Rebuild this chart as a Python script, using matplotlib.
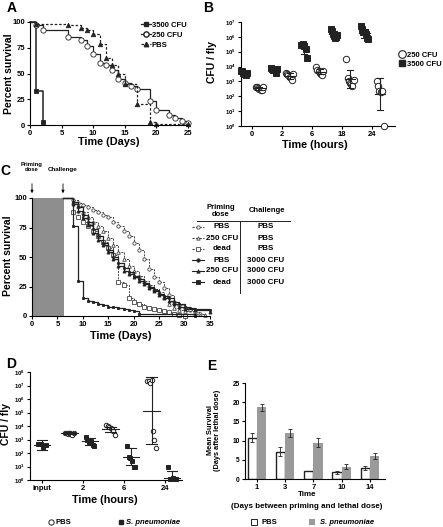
import numpy as np
import matplotlib
matplotlib.use("Agg")
import matplotlib.pyplot as plt
from matplotlib.lines import Line2D
from matplotlib.patches import Rectangle, FancyArrowPatch

# ---------------- data ----------------
# A: survival after single dose (days, percent)
A_t_3500 = [0, 1, 2]
A_s_3500 = [100, 33, 3]
A_t_250 = [0, 1, 2, 6, 8, 9, 10, 11, 12, 13, 14, 15, 16, 17, 19, 20, 22, 23, 24, 25]
A_s_250 = [100, 97, 92, 85, 83, 77, 69, 60, 58, 53, 45, 41, 38, 35, 23, 15, 10, 7, 4, 2]
A_t_pbs = [0, 1, 6, 8, 9, 10, 11, 12, 13, 14, 15, 17, 19, 20, 25]
A_s_pbs = [100, 98, 97, 94, 92, 88, 79, 65, 58, 50, 40, 20, 3, 1, 1]

# B: log10 CFU per fly
B_times = ["0", "2", "6", "18", "24"]
B_3500 = [
    [3.7, 3.7, 3.6, 3.5, 3.4, 3.6],
    [3.9, 3.85, 3.8, 3.75, 3.6, 3.85],
    [5.45, 5.5, 5.4, 5.2, 4.55],
    [6.5, 6.4, 6.2, 6.05, 5.95, 6.0, 6.1],
    [6.7, 6.5, 6.3, 6.3, 6.2, 5.9, 5.85],
]
B_250 = [
    [2.65, 2.6, 2.55, 2.5, 2.45, 2.4, 2.6],
    [3.6, 3.5, 3.4, 3.3, 3.2, 3.1, 3.5],
    [3.95, 3.8, 3.7, 3.6, 3.5, 3.4, 3.7],
    [4.5, 3.2, 3.0, 2.9, 2.8, 2.7, 3.1],
    [3.05, 2.7, 2.35, 2.3, 2.35, 0.0],
]

# C: priming / challenge survival (days, percent)
C_t_pbs_pbs = [6, 8, 9, 10, 11, 12, 13, 14, 15, 16, 17, 18, 19, 20, 21, 22, 23, 24, 25, 26, 27, 28, 29, 30, 31, 32, 33]
C_s_pbs_pbs = [100, 98, 96, 94, 92, 90, 88, 86, 84, 80, 76, 72, 68, 62, 56, 48, 40, 33, 29, 24, 18, 12, 9, 7, 5, 3, 2]
C_t_250_pbs = [6, 8, 9, 10, 11, 12, 13, 14, 15, 16, 17, 18, 19, 20, 21, 22, 23, 24, 25, 26, 27, 28, 29, 30, 32, 34]
C_s_250_pbs = [100, 97, 93, 88, 84, 80, 76, 72, 66, 60, 54, 48, 42, 38, 34, 30, 26, 23, 20, 16, 10, 7, 5, 4, 2, 1]
C_t_dead_pbs = [6, 8, 9, 10, 11, 12, 13, 14, 15, 16, 17, 18, 19, 20, 21, 22, 23, 24, 25, 26, 27, 28, 29, 30]
C_s_dead_pbs = [100, 88, 84, 80, 76, 72, 68, 63, 58, 52, 29, 26, 15, 12, 10, 8, 7, 6, 5, 4, 3, 2, 1, 0]
C_t_pbs_3000 = [6, 8, 9, 10, 11, 12, 13, 14, 15, 16, 17, 18, 19, 20, 21, 22, 23, 24, 25, 26, 27, 28, 29, 30, 31, 32, 35]
C_s_pbs_3000 = [100, 97, 92, 86, 80, 74, 68, 62, 56, 50, 45, 41, 37, 34, 31, 28, 25, 22, 19, 17, 15, 12, 10, 8, 7, 6, 5]
C_t_250_3000 = [6, 8, 9, 10, 11, 12, 13, 14, 15, 16, 17, 18, 19, 20, 21, 22, 23, 24, 25, 26, 27, 28, 29, 30, 32, 35]
C_s_250_3000 = [100, 95, 89, 83, 77, 70, 64, 60, 54, 48, 42, 38, 36, 33, 30, 27, 24, 21, 18, 15, 13, 10, 8, 6, 5, 3]
C_t_dead_3000 = [6, 8, 9, 10, 11, 12, 13, 14, 15, 16, 17, 18, 19, 20, 21, 32]
C_s_dead_3000 = [100, 76, 30, 15, 13, 12, 10, 9, 8, 8, 7, 6, 5, 4, 2, 0]
C_priming = ["PBS", "250 CFU", "dead", "PBS", "250 CFU", "dead"]
C_challenge = ["PBS", "PBS", "PBS", "3000 CFU", "3000 CFU", "3000 CFU"]

# D: log10 CFU per fly after priming
D_times = ["input", "2", "6", "24"]
D_input = [2.65, 2.7, 2.45, 2.6]
D_pbs = [
    [3.5, 3.45, 3.4, 3.45, 3.5, 3.4, 3.35, 3.5],
    [4.05, 4.0, 3.95, 3.85, 3.75, 3.6, 3.35],
    [7.35, 7.3, 7.2, 7.4, 3.6, 2.95, 2.4],
]
D_sp = [
    [3.2, 3.0, 2.85, 2.8, 2.9, 2.6, 2.55],
    [2.5, 1.7, 1.6, 1.4, 1.0, 1.0],
    [1.0, 0.1, 0.05, 0.15, 0.1, 0.1],
]
# mean, lower, upper (log10)
D_input_bar = [2.6, 2.25, 2.95]
D_pbs_bar = [[3.5, 3.4, 3.58], [3.75, 3.55, 3.95], [5.13, 2.67, 7.65]]
D_sp_bar = [[2.9, 2.6, 3.1], [1.68, 1.1, 2.35], [0.15, -0.2, 0.7]]

# E: mean survival after lethal dose
E_days = ["1", "3", "7", "10", "14"]
E_pbs = [10.8, 7.1, 2.0, 1.7, 2.9]
E_pbs_err = [1.2, 1.2, 0.0, 0.3, 0.5]
E_sp = [18.7, 12.0, 9.5, 3.2, 6.0]
E_sp_err = [0.9, 1.1, 1.2, 0.6, 0.7]

# ---------------- layout helpers ----------------
W, H = 443, 527


def fx(x):
    return x / W


def fy(y):
    return 1 - y / H


def rect(x0, y0, x1, y1):
    return [fx(x0), fy(y1), (x1 - x0) / W, (y1 - y0) / H]


plt.rcParams.update({
    "font.family": ["Liberation Sans", "DejaVu Sans"],
    "font.weight": "bold",
    "axes.labelweight": "bold",
    "axes.linewidth": 0.8,
    "xtick.major.width": 0.8,
    "ytick.major.width": 0.8,
    "xtick.major.size": 2.5,
    "ytick.major.size": 2.5,
    "xtick.major.pad": 1.2,
    "ytick.major.pad": 1.2,
    "mathtext.fontset": "custom",
    "mathtext.rm": "Liberation Sans:bold",
    "mathtext.bf": "Liberation Sans:bold",
})

DARK = "#222222"
fig = plt.figure(figsize=(W / 100, H / 100), dpi=100)


def prism(ax):
    for s in ("top", "right"):
        ax.spines[s].set_visible(False)
    ax.tick_params(labelsize=5.5)


def km(ax, t, s, ls, marker, mfc, ms, lw=0.9, color=DARK):
    ax.step(t, s, where="post", color=color, ls=ls, lw=lw, clip_on=False)
    ax.plot(t[1:], s[1:], ls="none", marker=marker, mfc=mfc, mec=color,
            ms=ms, mew=0.6, clip_on=False)


def label(x, y, s, size, rot=0, **kw):
    fig.text(fx(x), fy(y), s, fontsize=size, fontweight="bold", rotation=rot,
             ha="center", va="center", **kw)


def log_ticks(ax, top):
    ax.set_yticks([10.0 ** k for k in range(top + 1)])
    ax.set_yticklabels([rf"$\mathregular{{10^{{{k}}}}}$" for k in range(top + 1)],
                       fontsize=4.3)
    ax.minorticks_off()


def cluster(ax, center, vals, marker, mfc, ms, w=0.11):
    x = center + np.linspace(-w, w, len(vals))
    ax.plot(x, 10.0 ** np.array(vals), ls="none", marker=marker, mfc=mfc,
            mec=DARK, ms=ms, mew=0.7, clip_on=False, zorder=3)


def bar_sum(ax, center, mean, lo, hi, wm=0.2, wc=0.12):
    ax.plot([center, center], [10.0 ** lo, 10.0 ** hi], color=DARK, lw=0.8, zorder=4)
    ax.plot([center - wm, center + wm], [10.0 ** mean] * 2, color=DARK, lw=0.8, zorder=4)
    for v in (lo, hi):
        ax.plot([center - wc, center + wc], [10.0 ** v] * 2, color=DARK, lw=0.8, zorder=4)


# ---------------- A ----------------
axA = fig.add_axes(rect(30, 22, 188, 125))
prism(axA)
km(axA, A_t_3500, A_s_3500, "-", "s", DARK, 3.2, lw=1.1)
km(axA, A_t_250, A_s_250, "-", "o", "white", 3.8)
km(axA, A_t_pbs, A_s_pbs, (0, (2, 1.5)), "^", DARK, 3.2)
axA.set_xlim(0, 25)
axA.set_ylim(0, 100)
axA.set_xticks(range(0, 26, 5))
axA.set_yticks([0, 25, 50, 75, 100])
hA = [Line2D([], [], color=DARK, ls="-", marker="s", mfc=DARK, ms=3.2, lw=0.9),
      Line2D([], [], color=DARK, ls="-", marker="o", mfc="white", ms=3.8, lw=0.9),
      Line2D([], [], color=DARK, ls=(0, (2, 1.5)), marker="^", mfc=DARK, ms=3.2, lw=0.9)]
axA.legend(hA, ["3500 CFU", "250 CFU", "PBS"], loc="upper left",
           bbox_to_anchor=(0.68, 1.04), frameon=False, fontsize=5.5,
           handlelength=1.3, handletextpad=0.1, labelspacing=0.35, borderpad=0)
label(9, 74, "Percent survival", 7.5, rot=90)
label(109, 142, "Time (Days)", 7.8)
label(12, 8, "A", 10)

# ---------------- B ----------------
axB = fig.add_axes(rect(241, 22, 395, 126))
prism(axB)
axB.set_yscale("log")
axB.set_ylim(1, 1e7)
axB.set_xlim(-0.35, 4.75)
for i in range(len(B_times)):
    cluster(axB, i - 0.26, B_3500[i], "s", DARK, 3.8, w=0.1)
    cluster(axB, i + 0.26, B_250[i], "o", "white", 4.6, w=0.12)
    for grp, off in ((B_3500[i], -0.26), (B_250[i], 0.26)):
        v = np.array(grp)
        m, sd = v.mean(), v.std(ddof=1)
        bar_sum(axB, i + off, m, m - sd, m + sd, wm=0.17, wc=0.1)
axB.set_xticks(range(len(B_times)))
axB.set_xticklabels(B_times)
log_ticks(axB, 7)
hB = [Line2D([], [], ls="none", marker="o", mfc="white", mec=DARK, ms=5.5, mew=0.8),
      Line2D([], [], ls="none", marker="s", mfc=DARK, mec=DARK, ms=4.5)]
axB.legend(hB, ["250 CFU", "3500 CFU"], loc="upper left", bbox_to_anchor=(1.0, 0.75),
           frameon=False, fontsize=5.5, handlelength=0.8, handletextpad=0.3,
           labelspacing=0.2, borderpad=0)
label(212, 62, "CFU / fly", 7.5, rot=90)
label(315, 145, "Time (hours)", 7.8)
label(208, 8, "B", 10)

# ---------------- C ----------------
axC = fig.add_axes(rect(32, 198, 210, 316))
prism(axC)
axC.add_patch(Rectangle((0, 0), 6.2, 100, color="#8e8e8e", lw=0, zorder=0))
dash = (0, (2, 1.2))
km(axC, C_t_pbs_pbs, C_s_pbs_pbs, dash, "o", "white", 2.4, lw=0.7, color="#444444")
km(axC, C_t_250_pbs, C_s_250_pbs, dash, "^", "white", 2.6, lw=0.7, color="#444444")
km(axC, C_t_dead_pbs, C_s_dead_pbs, dash, "s", "white", 2.2, lw=0.7, color="#444444")
km(axC, C_t_pbs_3000, C_s_pbs_3000, "-", "o", DARK, 1.6, lw=0.9)
km(axC, C_t_250_3000, C_s_250_3000, "-", "^", DARK, 2.2, lw=0.9)
km(axC, C_t_dead_3000, C_s_dead_3000, "-", "s", DARK, 1.8, lw=0.9)
axC.set_xlim(0, 35)
axC.set_ylim(0, 100)
axC.set_xticks(range(0, 36, 5))
axC.set_yticks([0, 25, 50, 75, 100])
label(8, 256, "Percent survival", 7.5, rot=90)
label(121, 336, "Time (Days)", 7.8)
label(5, 171, "C", 10)
label(32, 167, "Priming\ndose", 4.2, linespacing=0.95)
label(63, 170, "Challenge", 4.5)
for xa in (32, 63):
    fig.add_artist(FancyArrowPatch(
        (fx(xa), fy(181)), (fx(xa), fy(196)), transform=fig.transFigure,
        arrowstyle="-|>", mutation_scale=4, lw=0.6, color="k"))

# legend table for C
label(221, 211, "Priming\ndose", 5.5, linespacing=1.0)
label(267, 211, "Challenge", 5.5)
fig.add_artist(Line2D([fx(197), fx(290)], [fy(221), fy(221)], transform=fig.transFigure,
                      color=DARK, lw=0.7))
fig.add_artist(Line2D([fx(240), fx(240)], [fy(221), fy(293)], transform=fig.transFigure,
                      color=DARK, lw=0.7))
row_style = [(dash, "o", "white", "#444444"), (dash, "^", "white", "#444444"),
             (dash, "s", "white", "#444444"), ("-", "o", DARK, DARK),
             ("-", "^", DARK, DARK), ("-", "s", DARK, DARK)]
for k, (pr, ch) in enumerate(zip(C_priming, C_challenge)):
    yy = 227 + 11 * k
    ls, mk, mfc, col = row_style[k]
    fig.add_artist(Line2D([fx(192), fx(204)], [fy(yy), fy(yy)], transform=fig.transFigure,
                          color=col, ls=ls, lw=0.8))
    fig.add_artist(Line2D([fx(198)], [fy(yy)], transform=fig.transFigure, ls="none",
                          marker=mk, mfc=mfc, mec=col, ms=2.4, mew=0.6))
    label(222, yy, pr, 5.8)
    label(266, yy, ch, 5.8)

# ---------------- D ----------------
axD = fig.add_axes(rect(30, 372, 182, 480))
prism(axD)
axD.set_yscale("log")
axD.set_ylim(1, 1e8)
axD.set_xlim(-0.29, 3.41)
OFF_P, OFF_S = -0.33, 0.17
cluster(axD, 0, D_input, "s", DARK, 2.8, w=0.1)
bar_sum(axD, 0, *D_input_bar, wm=0.2, wc=0.13)
for i in range(3):
    cluster(axD, i + 1 + OFF_P, D_pbs[i], "o", "white", 3.2, w=0.1)
    bar_sum(axD, i + 1 + OFF_P, *D_pbs_bar[i], wm=0.2, wc=0.13)
    cluster(axD, i + 1 + OFF_S, D_sp[i], "s", DARK, 2.8, w=0.1)
    bar_sum(axD, i + 1 + OFF_S, *D_sp_bar[i], wm=0.2, wc=0.13)
axD.set_xticks(range(len(D_times)))
axD.set_xticklabels(D_times)
log_ticks(axD, 8)
label(6, 424, "CFU / fly", 7.5, rot=90)
label(105, 500, "Time (hours)", 7.8)
label(11, 364, "D", 10)
fig.add_artist(Line2D([fx(51)], [fy(522)], transform=fig.transFigure, ls="none",
                      marker="o", mfc="white", mec=DARK, ms=3.8, mew=0.7))
fig.text(fx(55), fy(522), "PBS", fontsize=5.5, fontweight="bold", va="center")
fig.add_artist(Line2D([fx(121)], [fy(522)], transform=fig.transFigure, ls="none",
                      marker="s", mfc=DARK, mec=DARK, ms=3.2))
fig.text(fx(126), fy(522), "S. pneumoniae", fontsize=5.5, fontweight="bold",
         style="italic", va="center")

# ---------------- E ----------------
axE = fig.add_axes(rect(245, 383, 385, 479))
prism(axE)
xe = np.arange(len(E_days))
bw = 0.33
axE.bar(xe - bw / 2, E_pbs, bw, color="white", edgecolor=DARK, lw=1.0,
        yerr=E_pbs_err, error_kw=dict(ecolor=DARK, elinewidth=0.6, capsize=1.5, capthick=0.6))
axE.bar(xe + bw / 2, E_sp, bw, color="#9a9a9a", edgecolor="none",
        yerr=E_sp_err, error_kw=dict(ecolor=DARK, elinewidth=0.6, capsize=1.5, capthick=0.6))
axE.set_xlim(-0.42, 4.53)
axE.set_ylim(0, 25)
axE.set_yticks(range(0, 26, 5))
axE.set_xticks(xe)
axE.set_xticklabels(E_days)
axE.tick_params(axis="y", labelsize=4.8)
label(214, 430, "Mean Survival\n(Days after lethal dose)", 5.3, rot=90, linespacing=1.0)
label(307, 495, "Time", 5.8)
label(307, 506, "(Days between priming and lethal dose)", 5.8)
label(212, 366, "E", 10)
fig.add_artist(Rectangle((fx(251), fy(525)), 6 / W, 6 / H, transform=fig.transFigure,
                         facecolor="white", edgecolor=DARK, lw=0.7))
fig.text(fx(262), fy(522), "PBS", fontsize=5.5, fontweight="bold", va="center")
fig.add_artist(Rectangle((fx(309), fy(525)), 6 / W, 6 / H, transform=fig.transFigure,
                         facecolor="#9a9a9a", edgecolor="none"))
fig.text(fx(320), fy(522), "S. pneumoniae", fontsize=5.5, fontweight="bold",
         style="italic", va="center")

fig.savefig("out.png", dpi=100)
